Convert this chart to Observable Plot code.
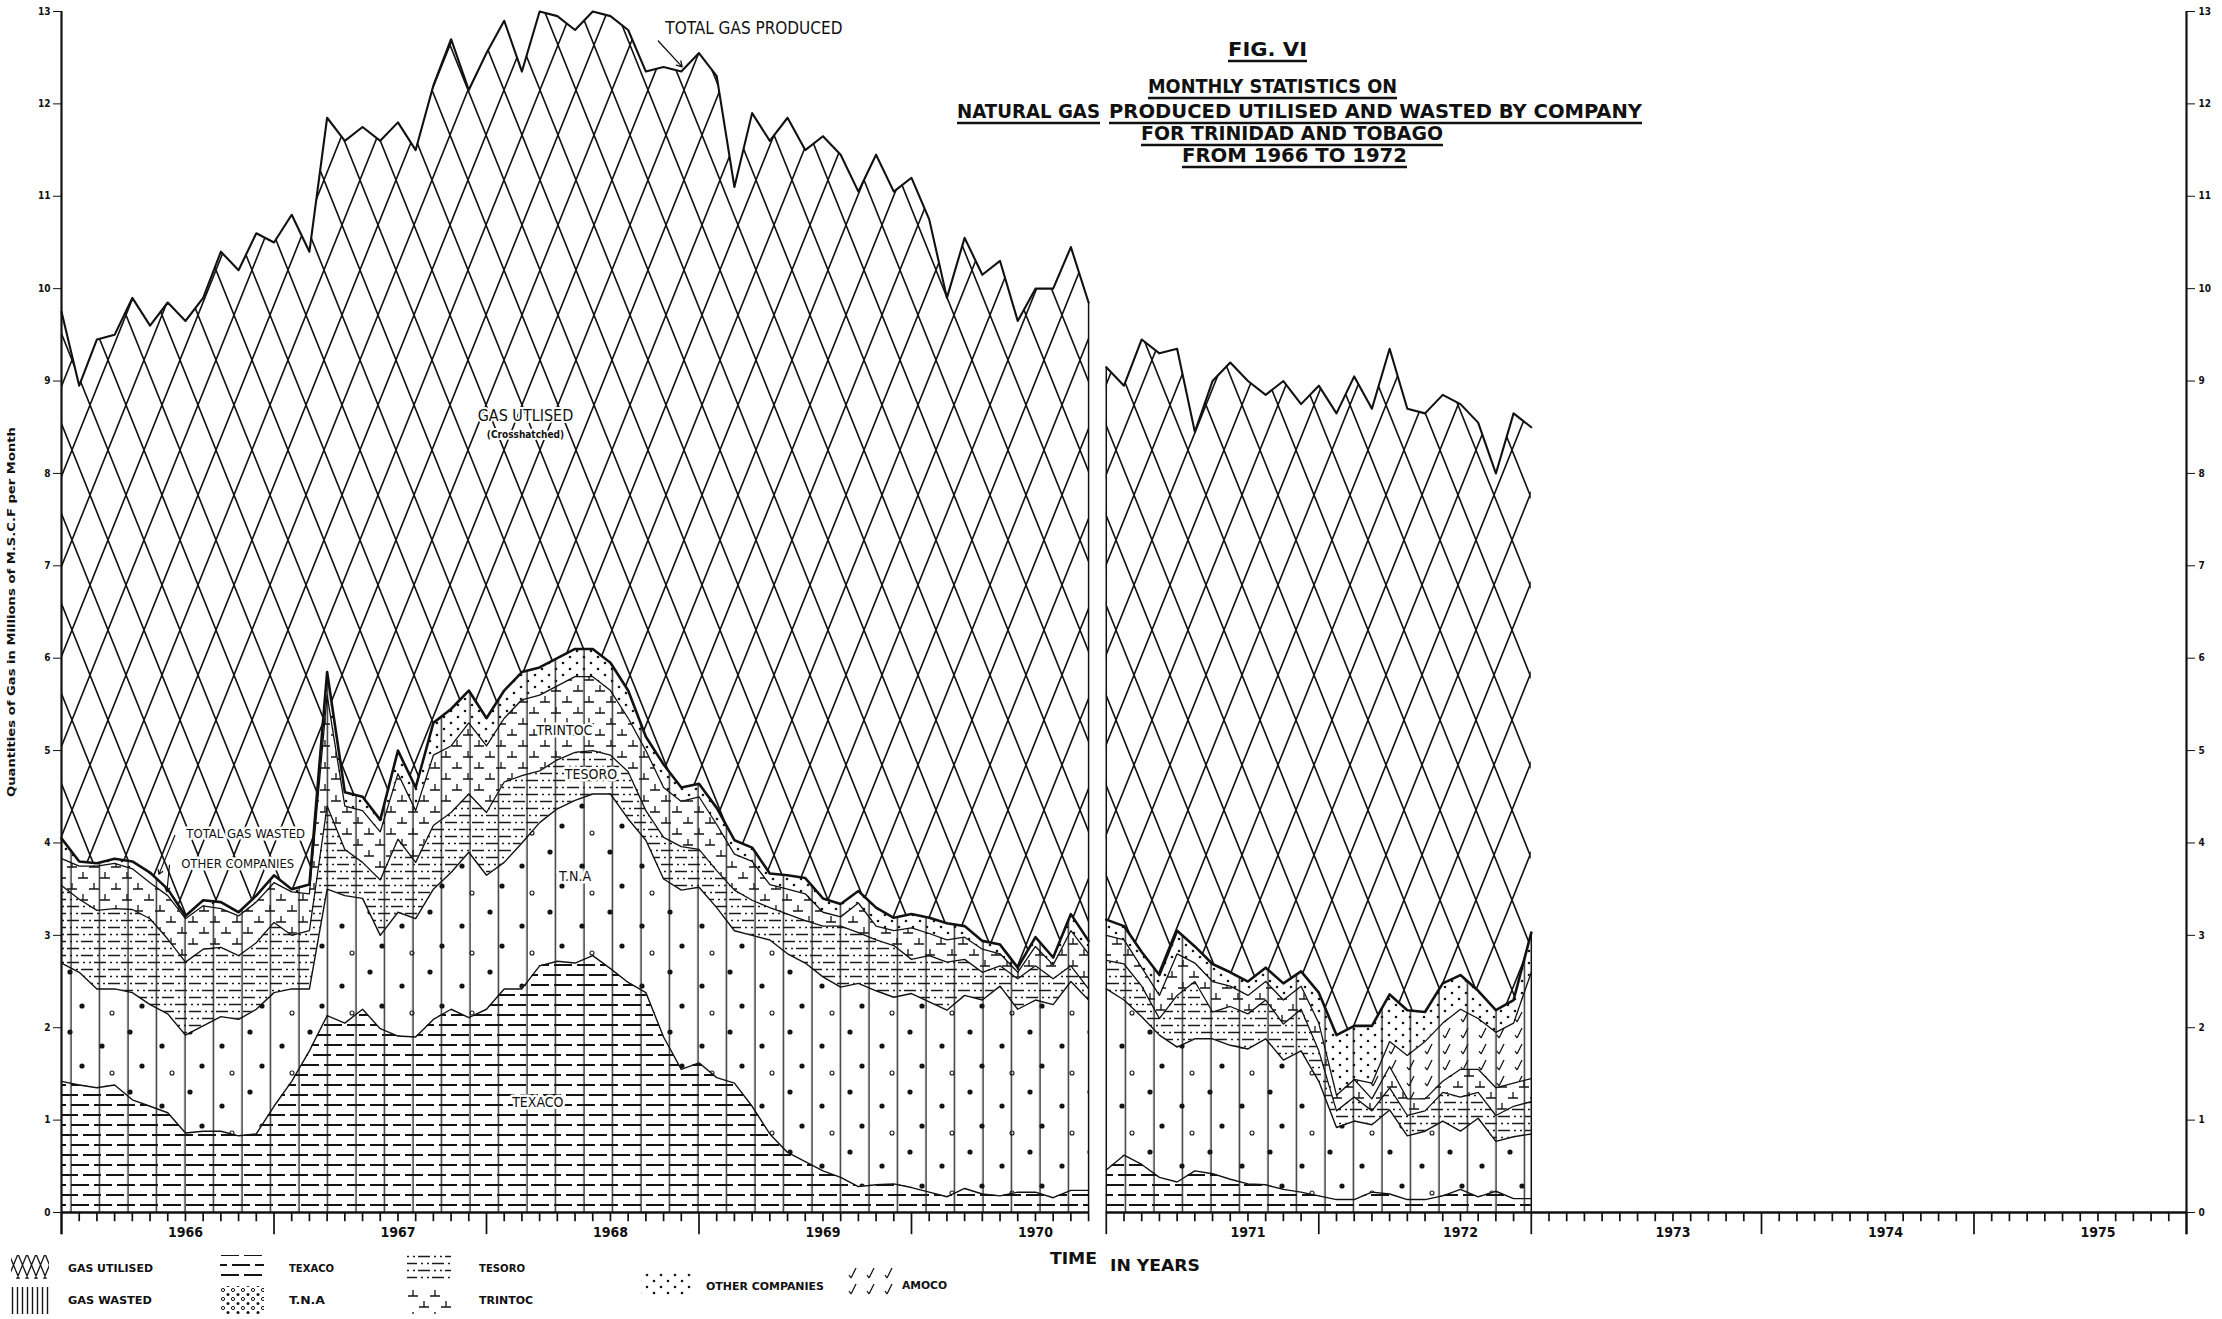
<!DOCTYPE html>
<html>
<head>
<meta charset="utf-8">
<title>Fig. VI — Natural gas produced, utilised and wasted by company, Trinidad and Tobago, 1966–1972</title>
<script src="https://cdn.jsdelivr.net/npm/d3@7"></script>
<script src="https://cdn.jsdelivr.net/npm/@observablehq/plot@0.6"></script>
<style>
  html, body { margin: 0; padding: 0; background: #fff; }
  #figure {
    position: relative; width: 2222px; height: 1319px; overflow: hidden; background: #fff;
    font-family: "Liberation Sans Narrow", "DejaVu Sans Condensed", "Liberation Sans", sans-serif;
    color: #111;
  }
  #figure > svg { position: absolute; left: 0; top: 0; }
  g[aria-label="band labels"] text { text-decoration: underline; letter-spacing: 3px; }
  g[aria-label="produced label"] text { text-decoration: underline; letter-spacing: 1px; }
  g[aria-label="wasted labels"] text { letter-spacing: 1.5px; }
  g[aria-label="utilised label"] text { letter-spacing: 1px; }
</style>
</head>
<body>
<div id="figure"></div>
<script>
// ---------------------------------------------------------------------------
// Monthly statistics, millions of M.S.C.F. per month.
// Month index 0 = January 1966. The first sheet runs to index 58,
// the second sheet (drawn separately) covers indices 59–83.
// Company series are the stacked boundary curves as drawn (cumulative tops).
// ---------------------------------------------------------------------------
const firstSheetLength = 59;
const months = d3.range(84);

const totalProduced = [
  9.75, 8.95, 9.45, 9.5, 9.9, 9.6, 9.85, 9.65, 9.9, 10.4, 10.2, 10.6,
  10.5, 10.8, 10.4, 11.85, 11.6, 11.75, 11.6, 11.8, 11.5, 12.2, 12.7, 12.15,
  12.55, 12.9, 12.35, 13.0, 12.95, 12.8, 13.0, 12.95, 12.8, 12.35, 12.4, 12.35,
  12.55, 12.3, 11.1, 11.9, 11.6, 11.85, 11.5, 11.65, 11.45, 11.05, 11.45, 11.05,
  11.2, 10.75, 9.9, 10.55, 10.15, 10.3, 9.65, 10.0, 10.0, 10.45, 9.85,
  9.15, 8.95, 9.45, 9.3, 9.35, 8.45, 9.0, 9.2, 9.0, 8.85, 9.0, 8.75,
  8.95, 8.65, 9.05, 8.7, 9.35, 8.7, 8.65, 8.85, 8.75, 8.55, 8.0, 8.65, 8.5
];

const totalWasted = [
  4.05, 3.80, 3.78, 3.83, 3.80, 3.68, 3.50, 3.21, 3.38, 3.36, 3.25, 3.43,
  3.65, 3.50, 3.55, 5.85, 4.55, 4.50, 4.25, 5.00, 4.60, 5.30, 5.45, 5.65,
  5.35, 5.65, 5.85, 5.90, 6.00, 6.10, 6.10, 5.95, 5.65, 5.15, 4.85, 4.60,
  4.64, 4.38, 4.03, 3.95, 3.67, 3.65, 3.62, 3.40, 3.34, 3.48, 3.30, 3.19,
  3.23, 3.19, 3.13, 3.10, 2.94, 2.90, 2.65, 2.98, 2.76, 3.23, 2.94,
  3.17, 3.10, 2.82, 2.57, 3.05, 2.88, 2.69, 2.60, 2.50, 2.65, 2.48, 2.61,
  2.38, 1.92, 2.02, 2.02, 2.36, 2.19, 2.17, 2.48, 2.57, 2.40, 2.19, 2.30, 3.03
];

// Gas wasted by company (stacked: Texaco, T.N.A, Tesoro, Trintoc, Amoco, other companies)
const texaco = [
  1.42, 1.38, 1.35, 1.38, 1.22, 1.15, 1.08, 0.86, 0.88, 0.88, 0.83, 0.85,
  1.15, 1.42, 1.75, 2.13, 2.05, 2.20, 1.99, 1.91, 1.90, 2.09, 2.20, 2.11,
  2.20, 2.42, 2.42, 2.67, 2.72, 2.70, 2.78, 2.64, 2.49, 2.38, 1.90, 1.55,
  1.62, 1.46, 1.40, 1.15, 0.85, 0.65, 0.55, 0.45, 0.38, 0.28, 0.30, 0.31,
  0.27, 0.22, 0.17, 0.26, 0.20, 0.18, 0.22, 0.22, 0.16, 0.24, 0.24,
  0.46, 0.62, 0.52, 0.38, 0.33, 0.45, 0.42, 0.36, 0.31, 0.30, 0.25, 0.22,
  0.18, 0.14, 0.14, 0.22, 0.20, 0.14, 0.14, 0.18, 0.25, 0.17, 0.23, 0.15, 0.15
];

const throughTNA = [
  2.70, 2.60, 2.42, 2.42, 2.38, 2.25, 2.15, 1.92, 2.02, 2.12, 2.09, 2.20,
  2.38, 2.42, 2.42, 3.50, 3.43, 3.40, 3.00, 3.25, 3.18, 3.50, 3.68, 3.90,
  3.65, 3.79, 4.00, 4.22, 4.37, 4.46, 4.53, 4.53, 4.26, 4.03, 3.61, 3.49,
  3.52, 3.30, 3.05, 3.00, 2.95, 2.80, 2.70, 2.55, 2.44, 2.48, 2.40, 2.33,
  2.37, 2.28, 2.19, 2.35, 2.30, 2.45, 2.20, 2.30, 2.25, 2.50, 2.30,
  2.42, 2.30, 2.12, 1.92, 1.79, 1.88, 1.88, 1.81, 1.77, 1.88, 1.65, 1.75,
  1.42, 0.92, 0.99, 0.95, 1.11, 0.83, 0.88, 0.99, 0.88, 1.02, 0.77, 0.82, 0.85
];

const throughTesoro = [
  3.54, 3.39, 3.27, 3.29, 3.28, 3.18, 2.96, 2.71, 2.85, 2.87, 2.78, 2.92,
  3.14, 3.00, 3.05, 4.40, 3.93, 3.79, 3.60, 4.04, 3.79, 4.19, 4.33, 4.53,
  4.33, 4.66, 4.73, 4.78, 4.90, 4.98, 5.00, 4.95, 4.77, 4.35, 4.06, 3.96,
  3.93, 3.70, 3.49, 3.38, 3.30, 3.23, 3.16, 3.10, 3.10, 3.03, 2.95, 2.89,
  2.74, 2.78, 2.71, 2.74, 2.60, 2.67, 2.53, 2.67, 2.53, 2.67, 2.42,
  2.73, 2.69, 2.45, 2.10, 2.35, 2.50, 2.17, 2.23, 2.15, 2.30, 2.04, 2.20,
  1.75, 1.10, 1.25, 1.10, 1.35, 1.05, 1.10, 1.30, 1.25, 1.30, 1.05, 1.15, 1.20
];

const throughTrintoc = [
  3.83, 3.75, 3.75, 3.78, 3.72, 3.57, 3.43, 3.18, 3.32, 3.29, 3.21, 3.36,
  3.57, 3.47, 3.45, 5.60, 4.40, 4.35, 4.12, 4.75, 4.35, 4.95, 5.05, 5.30,
  5.05, 5.35, 5.55, 5.60, 5.70, 5.80, 5.80, 5.65, 5.35, 5.00, 4.60, 4.45,
  4.50, 4.20, 3.88, 3.80, 3.55, 3.50, 3.45, 3.25, 3.20, 3.35, 3.10, 3.05,
  3.08, 3.02, 2.95, 2.98, 2.85, 2.80, 2.60, 2.88, 2.68, 3.05, 2.80,
  3.00, 2.95, 2.65, 2.35, 2.80, 2.70, 2.50, 2.45, 2.35, 2.50, 2.30, 2.45,
  2.05, 1.27, 1.44, 1.23, 1.58, 1.23, 1.23, 1.42, 1.55, 1.55, 1.35, 1.40, 1.45
];

// Amoco appears only on the second sheet, from late 1971
const throughAmoco = [
  ...Array(74).fill(null),
  1.40, 1.85, 1.70, 1.85, 2.05, 2.20, 2.10, 1.95, 2.05, 2.60
];

const years = [1966, 1967, 1968, 1969, 1970, 1971, 1972, 1973, 1974, 1975];
// long ticks as drawn along the time axis (month index)
const yearTicks = [0, 12, 24, 36, 48, 59, 71, 83, 96, 108, 120];

// ---------------------------------------------------------------------------
const rows = months.map((m, i) => ({
  month: m,
  sheet: i < firstSheetLength ? 1 : 2,
  produced: totalProduced[i],
  wasted: totalWasted[i],
  texaco: texaco[i],
  tna: throughTNA[i],
  tesoro: throughTesoro[i],
  trintoc: throughTrintoc[i],
  amoco: throughAmoco[i] ?? throughTrintoc[i]
}));
const sheet1 = rows.filter(d => d.sheet === 1);
const sheet2 = rows.filter(d => d.sheet === 2);

// fill patterns, shared by the chart and the key
const patterns = `
<svg width="0" height="0" style="position:absolute;left:0;top:0">
 <defs>
  <pattern id="utilised" patternUnits="userSpaceOnUse" width="36" height="90">
   <path d="M-42,-15L6,105M-6,-15L42,105M30,-15L78,105M6,-15L-42,105M42,-15L-6,105M78,-15L30,105"
         stroke="#141414" stroke-width="1.6" fill="none"/>
  </pattern>
  <pattern id="wasted" patternUnits="userSpaceOnUse" width="28.5" height="20">
   <path d="M14,0V20" stroke="#1a1a1a" stroke-width="1.3"/>
  </pattern>
  <pattern id="texaco" patternUnits="userSpaceOnUse" width="46" height="20">
   <path d="M2,5H20M25,5H43M-9,15H9M14,15H32M37,15H55" stroke="#141414" stroke-width="2"/>
  </pattern>
  <pattern id="tna" patternUnits="userSpaceOnUse" width="60" height="60">
   <circle cx="10" cy="12" r="2.6" fill="#141414"/>
   <circle cx="42" cy="26" r="2.6" fill="#141414"/>
   <circle cx="22" cy="46" r="2.6" fill="#141414"/>
   <circle cx="52" cy="53" r="2" fill="none" stroke="#141414" stroke-width="1.1"/>
  </pattern>
  <pattern id="tesoro" patternUnits="userSpaceOnUse" width="27" height="14">
   <path d="M0,3.5H12M16,3.5H18M22,3.5H24M13,10.5H25M2,10.5H4M8,10.5H10" stroke="#1a1a1a" stroke-width="1.3"/>
  </pattern>
  <pattern id="trintoc" patternUnits="userSpaceOnUse" width="22" height="22">
   <path d="M1,9H11M6,3V9M12,20H22M17,14V20" stroke="#141414" stroke-width="1.3"/>
  </pattern>
  <pattern id="other" patternUnits="userSpaceOnUse" width="14" height="12">
   <circle cx="3" cy="3" r="1.3" fill="#141414"/>
   <circle cx="10" cy="9" r="1.3" fill="#141414"/>
  </pattern>
  <pattern id="amoco" patternUnits="userSpaceOnUse" width="18" height="16">
   <path d="M5,14L10,4M5,14L3,11" stroke="#141414" stroke-width="1.3" fill="none"/>
  </pattern>
  <pattern id="key-utilised" patternUnits="userSpaceOnUse" width="9" height="22">
   <path d="M-2.05,-5L11.05,27M-11.05,-5L2.05,27M6.95,-5L20.05,27M2.05,-5L-11.05,27M11.05,-5L-2.05,27M20.05,-5L6.95,27"
         stroke="#141414" stroke-width="1.3" fill="none"/>
  </pattern>
  <pattern id="key-wasted" patternUnits="userSpaceOnUse" width="5" height="10">
   <path d="M2.5,0V10" stroke="#141414" stroke-width="1.4"/>
  </pattern>
  <pattern id="key-tna" patternUnits="userSpaceOnUse" width="10" height="9">
   <circle cx="3" cy="3" r="1.6" fill="none" stroke="#141414" stroke-width="1"/>
   <circle cx="8" cy="7.5" r="1.5" fill="#141414"/>
  </pattern>
 </defs>
</svg>`;
const figure = document.getElementById("figure");
figure.insertAdjacentHTML("beforeend", patterns);

const ink = "#111";
const band = (y1, y2, fill) =>
  Plot.areaY(rows, {x: "month", y1, y2, z: "sheet", fill, curve: "linear"});
const edge = (data, y, strokeWidth) =>
  Plot.lineY(data, {x: "month", y, z: "sheet", stroke: ink, strokeWidth, curve: "linear"});

// outer edges of the two drawn sheets
const sheetEdges = [
  {month: sheet1.at(-1).month, top: sheet1.at(-1).produced},
  {month: sheet2[0].month, top: sheet2[0].produced},
  {month: sheet2.at(-1).month, top: sheet2.at(-1).wasted}
];
const baselineSpans = [
  {from: sheet1[0].month, to: sheet1.at(-1).month},
  {from: sheet2[0].month, to: 120}
];

// in-chart labelling
const bandLabels = [
  {text: "TRINTOC", month: 28.4, value: 5.22},
  {text: "TESORO", month: 29.9, value: 4.74},
  {text: "T.N.A", month: 29.0, value: 3.64},
  {text: "TEXACO", month: 26.9, value: 1.19}
];
const wastedLabels = [
  {text: "TOTAL GAS WASTED", month: 10.4, value: 4.1},
  {text: "OTHER COMPANIES", month: 9.95, value: 3.77}
];
const wastedLeaders = [
  {m1: 6.4, v1: 4.08, m2: 5.5, v2: 3.66},
  {m1: 6.1, v1: 3.76, m2: 5.95, v2: 3.47}
];

const chart = Plot.plot({
  width: 2222,
  height: 1319,
  marginLeft: 61,
  marginRight: 36,
  marginTop: 11,
  marginBottom: 107,
  x: {domain: [0, 120], axis: null},
  y: {domain: [0, 13], axis: null},
  style: {background: "transparent", color: ink,
          fontFamily: "'Liberation Sans Narrow', 'DejaVu Sans Condensed', 'Liberation Sans', sans-serif"},
  marks: [
    // gas utilised (crosshatched) between total wasted and total produced
    band("wasted", "produced", "url(#utilised)"),
    // gas wasted, by company
    band(() => 0, "texaco", "url(#texaco)"),
    band("texaco", "tna", "url(#tna)"),
    band("tna", "tesoro", "url(#tesoro)"),
    band("tesoro", "trintoc", "url(#trintoc)"),
    band("trintoc", "amoco", "url(#amoco)"),
    band("amoco", "wasted", "url(#other)"),
    band(() => 0, "wasted", "url(#wasted)"),

    edge(rows, "texaco", 1.4),
    edge(rows, "tna", 1.4),
    edge(rows, "tesoro", 1.3),
    edge(rows, "trintoc", 1.3),
    edge(sheet2.filter(d => d.month >= 73), "amoco", 1.3),
    edge(rows, "wasted", 2.6),
    edge(rows, "produced", 2.1),
    Plot.ruleX(sheetEdges, {x: "month", y1: 0, y2: "top", stroke: ink, strokeWidth: 1.5}),

    // vertical axes
    Plot.ruleX([0, 120], {y1: -0.24, y2: 13, stroke: ink, strokeWidth: 2.2}),
    Plot.axisY({anchor: "left", ticks: d3.range(0, 14), tickSize: 8, tickPadding: 3,
                tickFormat: d3.format("d"), fontSize: 10, fontWeight: "bold", label: null}),
    Plot.axisY({anchor: "right", ticks: d3.range(0, 14), tickSize: 8, tickPadding: 4,
                tickFormat: d3.format("d"), fontSize: 10, fontWeight: "bold", label: null}),

    // time axis: baseline, monthly ticks, long year ticks, year labels
    Plot.ruleY(baselineSpans, {y: 0, x1: "from", x2: "to", stroke: ink, strokeWidth: 2.6}),
    Plot.ruleX(d3.range(0, 121), {x: d => d, y1: 0,
               y2: d => yearTicks.includes(d) ? -0.24 : -0.1, stroke: ink, strokeWidth: 1.7}),
    Plot.axisX({ticks: years.map((y, i) => 12 * i + 7), tickSize: 0, tickPadding: 15,
                tickFormat: d => String(years[Math.round((d - 7) / 12)]),
                fontSize: 14, fontWeight: "bold", label: null}),

    // labels
    Plot.text(bandLabels, {x: "month", y: "value", text: "text", fontSize: 14,
               stroke: "white", strokeWidth: 5, paintOrder: "stroke", fill: ink,
               ariaLabel: "band labels"}),
    Plot.text(wastedLabels, {x: "month", y: "value", text: "text", fontSize: 13,
               stroke: "white", strokeWidth: 5, paintOrder: "stroke", fill: ink,
               ariaLabel: "wasted labels"}),
    Plot.arrow(wastedLeaders, {x1: "m1", y1: "v1", x2: "m2", y2: "v2", stroke: ink,
               strokeWidth: 1.2, headLength: 6}),
    Plot.text(["GAS UTLISED"], {x: 26.2, y: 8.62, text: d => d, fontSize: 16,
               stroke: "white", strokeWidth: 4, paintOrder: "stroke", fill: ink,
               ariaLabel: "utilised label"}),
    Plot.text(["(Crosshatched)"], {x: 26.2, y: 8.42, text: d => d, fontSize: 10, fontWeight: "bold",
               stroke: "white", strokeWidth: 4, paintOrder: "stroke", fill: ink}),
    Plot.text(["TOTAL GAS PRODUCED"], {x: 39.1, y: 12.82, text: d => d, fontSize: 17,
               stroke: "white", strokeWidth: 5, paintOrder: "stroke", fill: ink,
               ariaLabel: "produced label"}),
    Plot.arrow([{m1: 33.7, v1: 12.68, m2: 35.05, v2: 12.4}],
               {x1: "m1", y1: "v1", x2: "m2", y2: "v2", stroke: ink, strokeWidth: 1.3, headLength: 7})
  ]
});
figure.appendChild(chart);

// ---------------------------------------------------------------------------
// Heading, axis titles and key
// ---------------------------------------------------------------------------
const over = d3.select(figure).append("svg")
  .attr("width", 2222).attr("height", 1319)
  .style("font-family", "'Liberation Sans Narrow', 'DejaVu Sans Condensed', 'Liberation Sans', sans-serif")
  .attr("fill", ink);

const heading = [
  {text: "FIG. VI", x0: 1228, x1: 1307, y: 56, size: 20},
  {text: "MONTHLY STATISTICS ON", x0: 1148, x1: 1397, y: 93, size: 19},
  {text: "NATURAL GAS", x0: 957, x1: 1100, y: 118, size: 19},
  {text: "PRODUCED UTILISED AND WASTED BY COMPANY", x0: 1109, x1: 1642, y: 118, size: 19},
  {text: "FOR TRINIDAD AND TOBAGO", x0: 1141, x1: 1443, y: 140, size: 19},
  {text: "FROM 1966 TO 1972", x0: 1182, x1: 1407, y: 162, size: 19}
];
const hg = over.append("g");
hg.selectAll("text").data(heading).join("text")
  .attr("x", d => d.x0).attr("y", d => d.y)
  .attr("textLength", d => d.x1 - d.x0).attr("lengthAdjust", "spacingAndGlyphs")
  .attr("font-size", d => d.size).attr("font-weight", "bold")
  .text(d => d.text);
hg.selectAll("line").data(heading).join("line")
  .attr("x1", d => d.x0).attr("x2", d => d.x1)
  .attr("y1", d => d.y + 5).attr("y2", d => d.y + 5)
  .attr("stroke", ink).attr("stroke-width", 2.4);

// vertical axis title
over.append("text")
  .attr("transform", "translate(15,612) rotate(-90)")
  .attr("text-anchor", "middle")
  .attr("font-size", 11).attr("font-weight", "bold")
  .attr("textLength", 370).attr("lengthAdjust", "spacingAndGlyphs")
  .text("Quantities of Gas in Millions of M.S.C.F per Month");

// time axis title
over.append("text").attr("x", 1050).attr("y", 1264).attr("font-size", 15).attr("font-weight", "bold")
  .attr("textLength", 47).attr("lengthAdjust", "spacingAndGlyphs").text("TIME");
over.append("text").attr("x", 1110).attr("y", 1271).attr("font-size", 15).attr("font-weight", "bold")
  .attr("textLength", 90).attr("lengthAdjust", "spacingAndGlyphs").text("IN YEARS");

// key
const key = [
  {label: "GAS UTILISED", fill: "url(#key-utilised)", sx: 11, sy: 1255, sw: 38, sh: 24, tx: 68, ty: 1272, tw: 85},
  {label: "GAS WASTED", fill: "url(#key-wasted)", sx: 11, sy: 1287, sw: 38, sh: 27, tx: 68, ty: 1304, tw: 84},
  {label: "TEXACO", fill: "url(#texaco)", sx: 220, sy: 1255, sw: 44, sh: 24, tx: 289, ty: 1272, tw: 45},
  {label: "T.N.A", fill: "url(#key-tna)", sx: 220, sy: 1286, sw: 44, sh: 28, tx: 289, ty: 1304, tw: 36},
  {label: "TESORO", fill: "url(#tesoro)", sx: 407, sy: 1255, sw: 44, sh: 24, tx: 479, ty: 1272, tw: 46},
  {label: "TRINTOC", fill: "url(#trintoc)", sx: 407, sy: 1286, sw: 44, sh: 28, tx: 479, ty: 1304, tw: 54},
  {label: "OTHER COMPANIES", fill: "url(#other)", sx: 641, sy: 1273, sw: 50, sh: 24, tx: 706, ty: 1290, tw: 118},
  {label: "AMOCO", fill: "url(#amoco)", sx: 842, sy: 1268, sw: 52, sh: 30, tx: 902, ty: 1289, tw: 45}
];
const kg = over.append("g");
kg.selectAll("rect").data(key).join("rect")
  .attr("x", d => d.sx).attr("y", d => d.sy).attr("width", d => d.sw).attr("height", d => d.sh)
  .attr("fill", d => d.fill);
kg.selectAll("text").data(key).join("text")
  .attr("x", d => d.tx).attr("y", d => d.ty)
  .attr("font-size", 10).attr("font-weight", "bold")
  .attr("textLength", d => d.tw).attr("lengthAdjust", "spacingAndGlyphs")
  .text(d => d.label);
</script>
</body>
</html>
